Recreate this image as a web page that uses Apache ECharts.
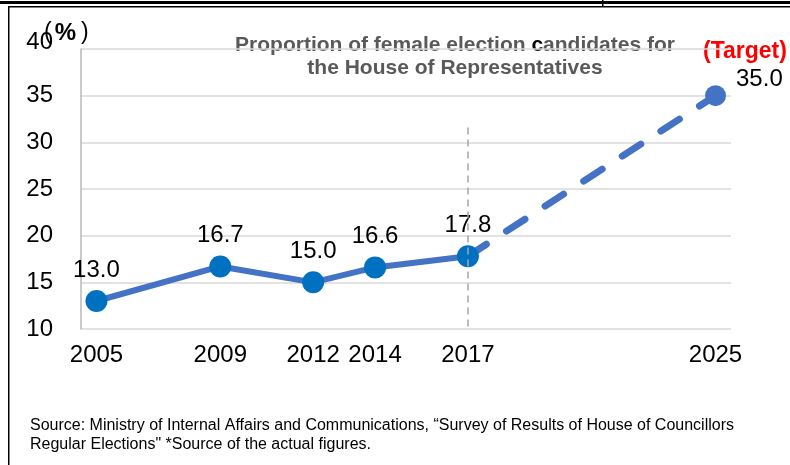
<!DOCTYPE html>
<html>
<head>
<meta charset="utf-8">
<script src="https://cdn.jsdelivr.net/npm/echarts@6/dist/echarts.min.js"></script>
<style>
  html, body { margin: 0; padding: 0; background: #fff; }
  #chart { width: 790px; height: 465px; }
</style>
</head>
<body>
<div id="chart"></div>
<script>
// actual figures
const actualYears = [2005, 2009, 2012, 2014, 2017]
const actualValues = [13.0, 16.7, 15.0, 16.6, 17.8]
// target
const targetYear = 2025
const targetValue = 35.0
const yearTicks = [2005, 2009, 2012, 2014, 2017, 2025]
const dividerYear = 2017
const dividerRange = [31.6, 10] // dashed gray divider, in % units

const chart = echarts.init(document.getElementById('chart'))

const actualData = actualYears.map((y, i) => [y, actualValues[i]])
const targetData = [[actualYears[actualYears.length - 1], actualValues[actualValues.length - 1]], [targetYear, targetValue]]

const font = 'Liberation Sans, Arial, sans-serif'

chart.setOption({
  animation: false,
  textStyle: { fontFamily: font },
  grid: { left: 81, right: 59, top: 49, bottom: 136 },
  xAxis: {
    type: 'value',
    min: 2004.5,
    max: 2025.5,
    axisLine: { show: false },
    axisTick: { show: false },
    splitLine: { show: false },
    axisLabel: {
      customValues: yearTicks,
      formatter: v => String(v),
      fontSize: 24,
      color: '#000',
      margin: 14
    }
  },
  yAxis: {
    type: 'value',
    min: 10,
    max: 40,
    interval: 5,
    axisLine: { show: true, lineStyle: { color: '#b8b8b8', width: 1.5 } },
    axisTick: { show: false },
    splitLine: { lineStyle: { color: '#d9d9d9', width: 1.5 } },
    axisLabel: {
      fontSize: 24,
      color: '#000',
      margin: 28,
      formatter: v => v === 40 ? '{top|40}' : String(v),
      rich: { top: { fontSize: 24, color: '#000', padding: [0, 0, 14, 0] } }
    }
  },
  series: [
    {
      name: 'actual',
      type: 'line',
      data: actualData,
      symbol: 'circle',
      symbolSize: 22,
      itemStyle: { color: '#0070C0' },
      lineStyle: { color: '#4472C4', width: 6 },
      label: {
        show: true,
        position: 'top',
        distance: 8,
        fontSize: 24,
        color: '#000',
        formatter: p => p.value[1].toFixed(1)
      },
      markLine: {
        silent: true,
        symbol: 'none',
        label: { show: false },
        lineStyle: { color: '#a6a6a6', type: [7, 5], width: 1.5 },
        data: [[
          { coord: [dividerYear, dividerRange[0]] },
          { coord: [dividerYear, dividerRange[1]] }
        ]]
      },
      z: 3
    },
    {
      name: 'target',
      type: 'line',
      data: targetData,
      symbol: 'circle',
      symbolSize: 21,
      showSymbol: true,
      itemStyle: { color: '#4472C4' },
      lineStyle: { color: '#4472C4', width: 7, type: [22, 24], cap: 'round' },
      label: {
        show: true,
        position: 'right',
        distance: 10,
        offset: [0, -16],
        fontSize: 24,
        color: '#000',
        formatter: p => p.dataIndex === 1 ? p.value[1].toFixed(1) : ''
      },
      z: 2
    }
  ],
  graphic: [
    // page frame
    { type: 'rect', shape: { x: 0, y: 1, width: 790, height: 3 }, style: { fill: '#000' } },
    { type: 'rect', shape: { x: 8, y: 6, width: 782, height: 1.5 }, style: { fill: '#000' } },
    { type: 'rect', shape: { x: 8, y: 6, width: 1.5, height: 459 }, style: { fill: '#000' } },
    { type: 'rect', shape: { x: 602, y: 0, width: 1.5, height: 6 }, style: { fill: '#000' } },
    {
      type: 'text', x: 44, y: 21,
      style: {
        text: '{p|(}{b|%}{p|)}',
        rich: {
          p: { fontFamily: font, fontSize: 23, fill: '#000' },
          b: { fontFamily: font, fontWeight: 'bold', fontSize: 24, fill: '#000', padding: [0, 5, 0, 3] }
        }
      }
    },
    {
      type: 'text', x: 455, y: 34,
      style: {
        text: '{g|Proportion of female election }{k|c}{g|andidates for}\n{g|the House of Representatives}',
        align: 'center',
        lineHeight: 23,
        rich: {
          g: { fontFamily: font, fontWeight: 'bold', fontSize: 21, fill: '#595959', lineHeight: 23 },
          k: { fontFamily: font, fontWeight: 'bold', fontSize: 21, fill: '#000', lineHeight: 23 }
        }
      }
    },
    {
      type: 'text', x: 703, y: 40,
      style: { text: '(Target)', font: 'bold 23px ' + font, fill: '#ff0000' }
    },
    {
      type: 'text', x: 30, y: 416,
      style: {
        text: 'Source: Ministry of Internal Affairs and Communications, \u201cSurvey of Results of House of Councillors\nRegular Elections" *Source of the actual figures.',
        font: '16px ' + font,
        fill: '#000',
        lineHeight: 19
      }
    }
  ]
})
</script>
</body>
</html>
